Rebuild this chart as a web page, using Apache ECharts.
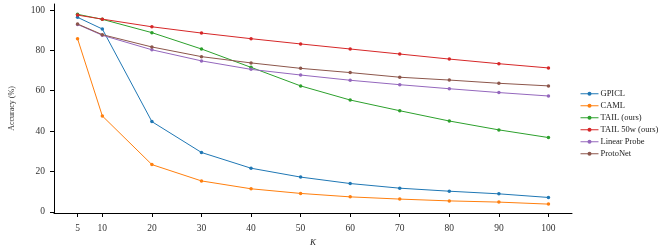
<!DOCTYPE html>
<html><head><meta charset="utf-8">
<script src="https://cdn.jsdelivr.net/npm/echarts@6/dist/echarts.min.js"></script>
<style>html,body{margin:0;padding:0;background:#fff}#c{width:660px;height:252px}</style>
</head><body><div id="c"></div>
<script>
const kValues = [5, 10, 20, 30, 40, 50, 60, 70, 80, 90, 100];
const yTicks = [0, 20, 40, 60, 80, 100];
const seriesNames = ['GPICL', 'CAML', 'TAIL (ours)', 'TAIL 50w (ours)', 'Linear Probe', 'ProtoNet'];
const gpicl = [96.4, 90.6, 44.7, 29.4, 21.6, 17.2, 14.0, 11.7, 10.2, 8.9, 7.1];
const caml = [85.8, 47.5, 23.4, 15.3, 11.4, 9.1, 7.4, 6.3, 5.4, 4.8, 3.8];
const tail = [97.9, 95.4, 88.8, 80.7, 71.6, 62.4, 55.4, 50.1, 45.0, 40.6, 36.8];
const tail50w = [97.5, 95.5, 91.7, 88.6, 85.8, 83.2, 80.7, 78.2, 75.7, 73.4, 71.3];
const linearProbe = [92.9, 87.5, 80.3, 74.8, 70.6, 67.8, 65.2, 63.0, 61.0, 59.1, 57.4];
const protoNet = [93.1, 87.8, 81.7, 76.9, 73.8, 71.1, 69.0, 66.7, 65.3, 63.7, 62.4];
const colors = ['#1f77b4', '#ff7f0e', '#2ca02c', '#d62728', '#9467bd', '#8c564b'];
const allData = [gpicl, caml, tail, tail50w, linearProbe, protoNet];

const font = 'Liberation Serif, DejaVu Serif, serif';
const chart = echarts.init(document.getElementById('c'), null, {renderer: 'canvas'});
chart.setOption({
  animation: false,
  textStyle: {fontFamily: font},
  grid: {left: 48, right: 88, top: 4, bottom: 39, containLabel: false},
  xAxis: {
    type: 'value', min: 0.25, max: 104.75,
    name: 'K', nameLocation: 'middle', nameGap: 24,
    nameTextStyle: {fontFamily: font, fontStyle: 'italic', fontSize: 9, color: '#222'},
    axisLine: {show: true, onZero: false, lineStyle: {color: '#000', width: 1}},
    axisTick: {show: true, length: 4, lineStyle: {color: '#000'}, customValues: kValues},
    axisLabel: {fontSize: 9.5, color: '#333', fontFamily: font, margin: 10, customValues: kValues},
    splitLine: {show: false}
  },
  yAxis: {
    type: 'value', min: -0.6, max: 103,
    name: 'Accuracy (%)', nameLocation: 'middle', nameGap: 38, nameRotate: 90,
    nameTextStyle: {fontFamily: font, fontSize: 8, color: '#333'},
    axisLine: {show: true, onZero: false, lineStyle: {color: '#000', width: 1}},
    axisTick: {show: true, length: 4, lineStyle: {color: '#000'}, customValues: yTicks},
    axisLabel: {fontSize: 9.5, color: '#333', fontFamily: font, margin: 9, customValues: yTicks},
    splitLine: {show: false}
  },
  legend: {
    orient: 'vertical', left: 575, top: 84, itemWidth: 18, itemHeight: 5, itemGap: 2.5,
    textStyle: {fontFamily: font, fontSize: 8.5, color: '#222', lineHeight: 9.5, padding: [0, 0, 0, -3]},
    lineStyle: {width: 1},
    data: seriesNames
  },
  series: seriesNames.map((n, i) => ({
    name: n, type: 'line', color: colors[i],
    data: kValues.map((k, j) => [k, allData[i][j]]),
    symbol: 'circle', symbolSize: 3.5, showSymbol: true,
    lineStyle: {width: 1, color: colors[i]},
    itemStyle: {color: colors[i]}
  }))
});
</script></body></html>
